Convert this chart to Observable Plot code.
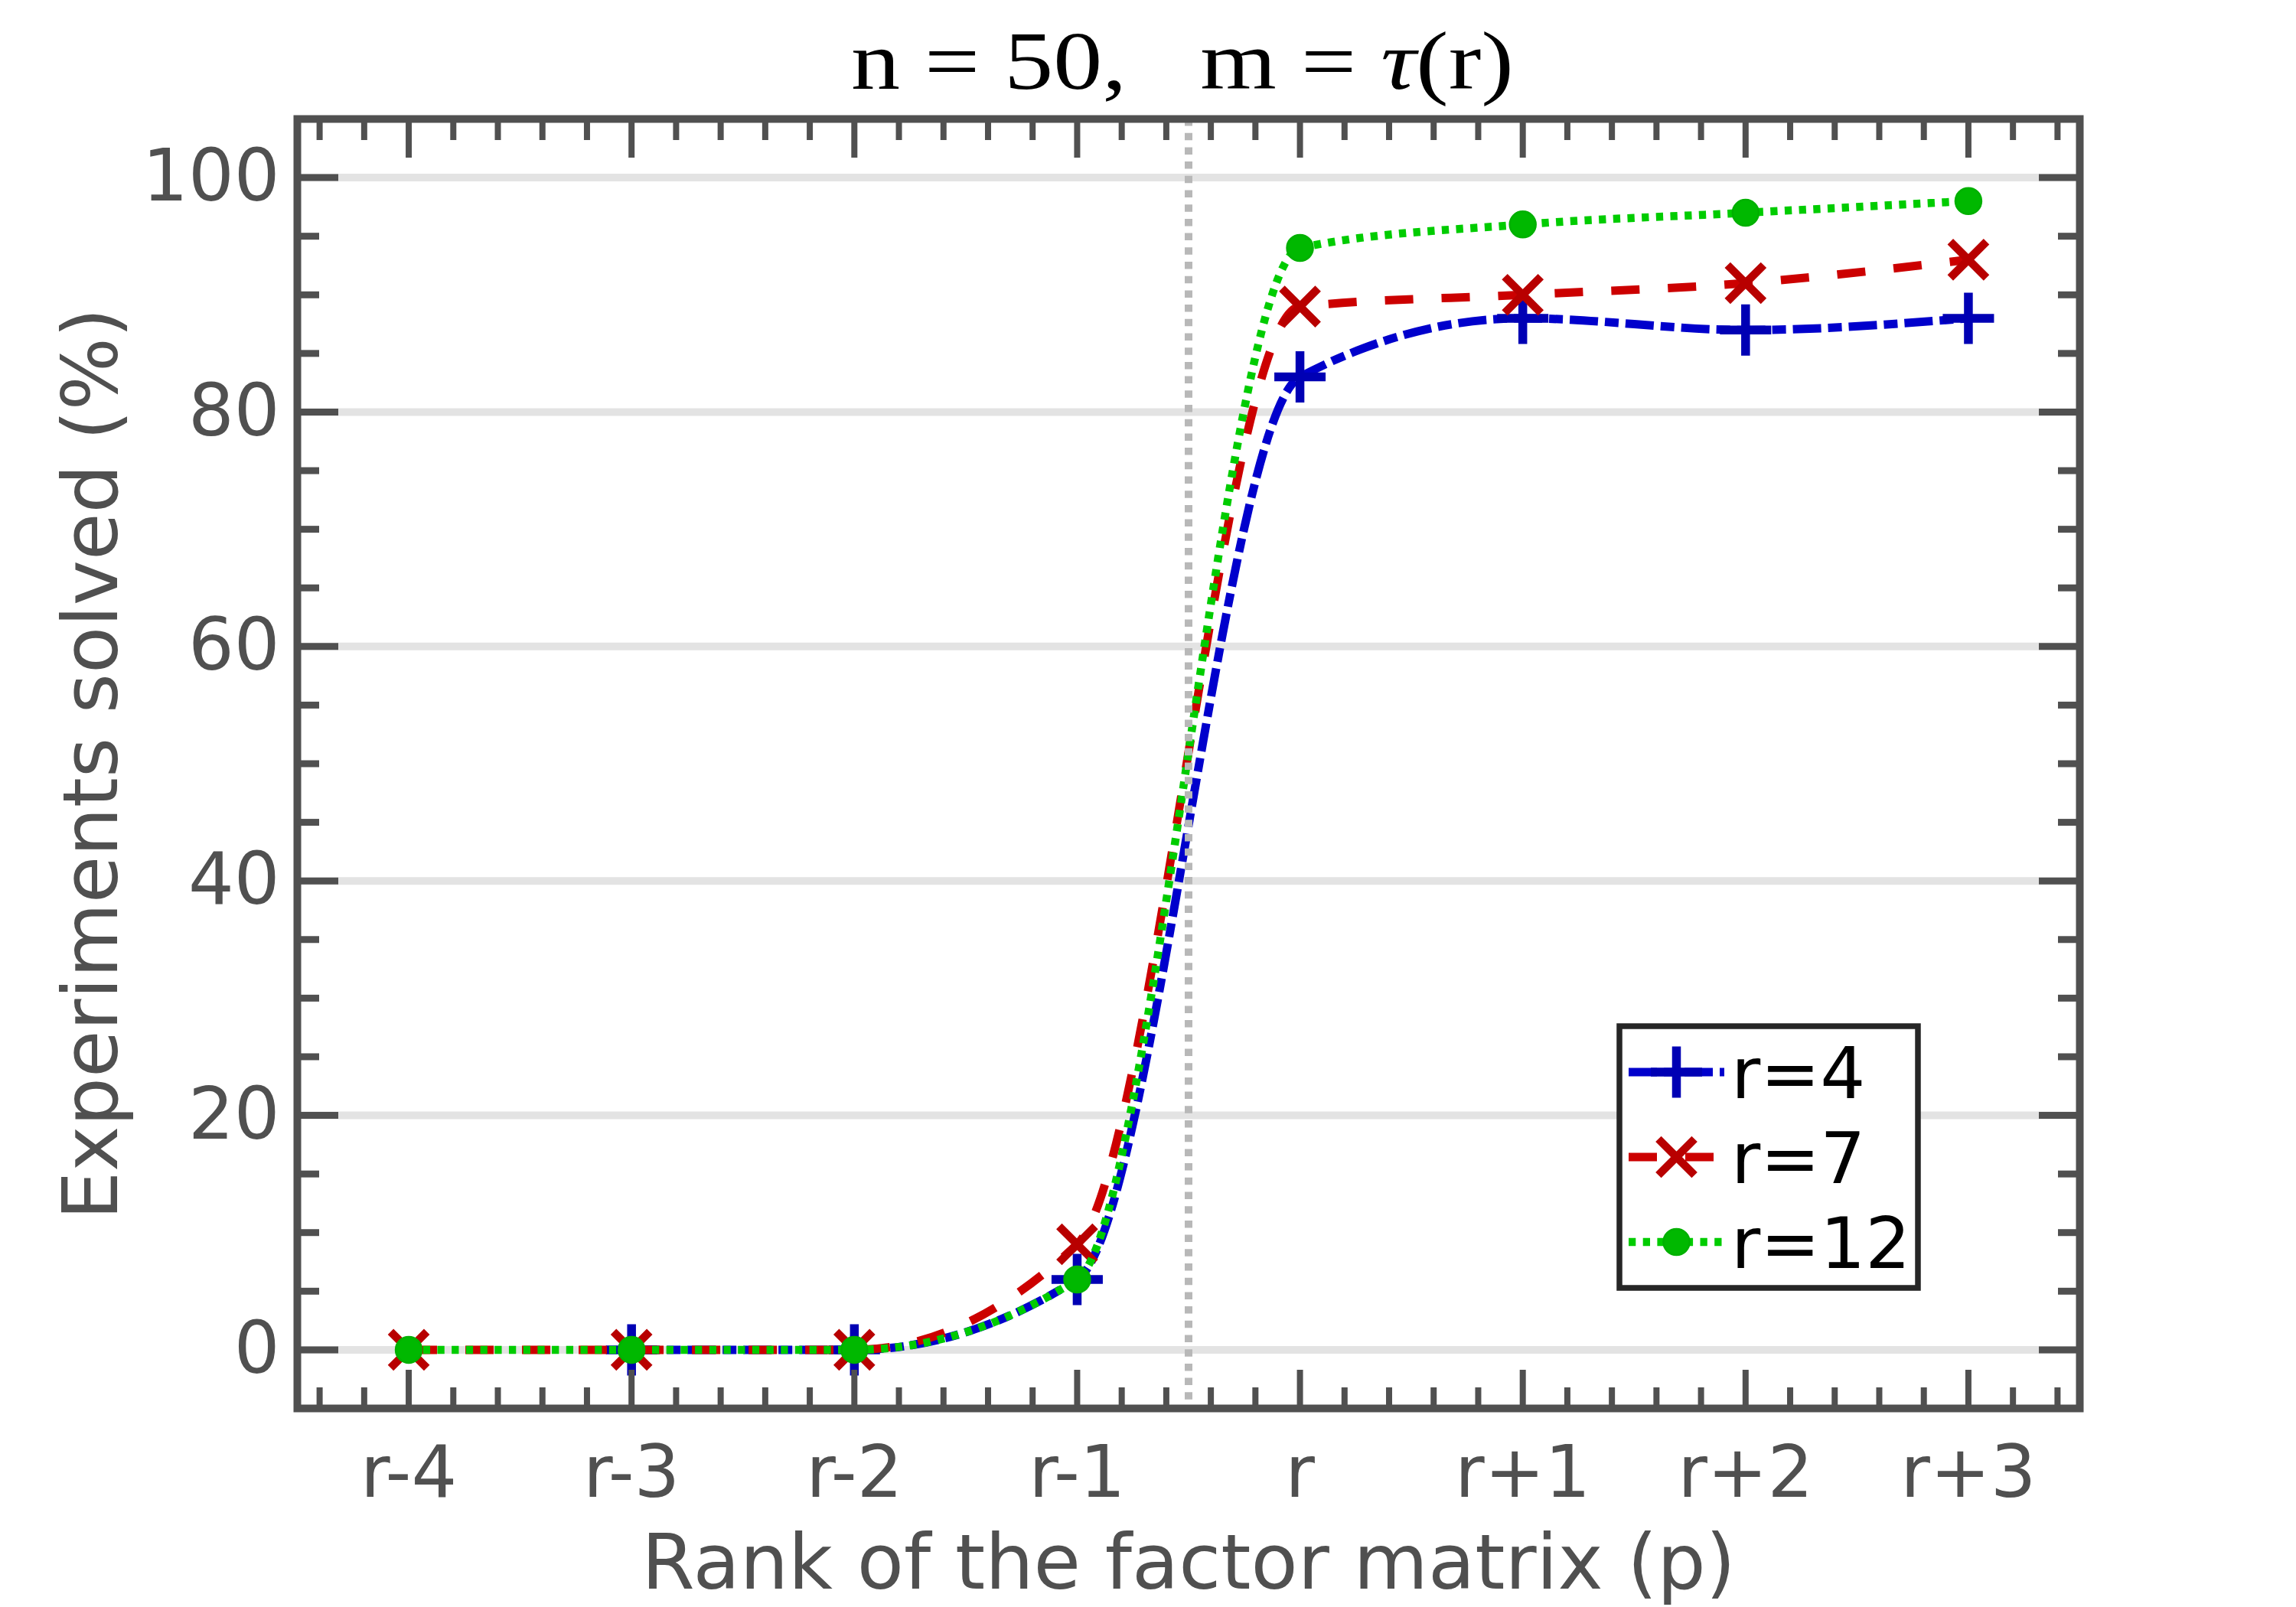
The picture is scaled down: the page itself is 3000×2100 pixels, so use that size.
<!DOCTYPE html>
<html>
<head>
<meta charset="utf-8">
<script src="https://cdn.jsdelivr.net/npm/d3@7"></script>
<script src="https://cdn.jsdelivr.net/npm/@observablehq/plot@0.6"></script>
<style>
  body { margin: 0; background: #ffffff; }
  #chart svg { display: block; }
</style>
</head>
<body>
<div id="chart"></div>
<script>
// ---- data ----
const rankLabels  = ["r-4", "r-3", "r-2", "r-1", "r", "r+1", "r+2", "r+3"];
const rankOffsets = [-4, -3, -2, -1, 0, 1, 2, 3];
const solvedR4  = [null, 0, 0, 6, 83, 88, 87, 88];
const solvedR7  = [0, 0, 0, 9, 89, 90, 91, 93];
const solvedR12 = [0, 0, 0, 6, 94, 96, 97, 98];
const seriesNames = ["r=4", "r=7", "r=12"];
const yMajorTicks = [0, 20, 40, 60, 80, 100];
const yMinorTicks = [5, 10, 15, 25, 30, 35, 45, 50, 55, 65, 70, 75, 85, 90, 95];
const xMinorTicks = [-4.4, -4.2, -3.8, -3.6, -3.4, -3.2, -2.8, -2.6, -2.4, -2.2, -1.8, -1.6, -1.4, -1.2,
                     -0.8, -0.6, -0.4, -0.2, 0.2, 0.4, 0.6, 0.8, 1.2, 1.4, 1.6, 1.8, 2.2, 2.4, 2.6, 2.8, 3.2, 3.4];
const thresholdOffset = [-0.5];
const xAxisLabel = "Rank of the factor matrix (p)";
const yAxisLabel = "Experiments solved (%)";

// ---- symbols ----
const plusSymbol = {draw(ctx, size) { const r = Math.sqrt(size / Math.PI); ctx.moveTo(-r, 0); ctx.lineTo(r, 0); ctx.moveTo(0, -r); ctx.lineTo(0, r); }};
const crossSymbol = {draw(ctx, size) { const r = Math.sqrt(size / Math.PI) * Math.SQRT1_2; ctx.moveTo(-r, -r); ctx.lineTo(r, r); ctx.moveTo(-r, r); ctx.lineTo(r, -r); }};
const circleSymbol = d3.symbolCircle;

const seriesStyles = [
  {name: seriesNames[0], values: solvedR4,  line: "#0000cc", lw: 11,   dash: "37,9,18,9", symbol: plusSymbol,   r: 33.5, mStroke: "#0000b4", mFill: "none",    mWidth: 11.5},
  {name: seriesNames[1], values: solvedR7,  line: "#cc0000", lw: 11,   dash: "37,37",     symbol: crossSymbol,  r: 33.4, mStroke: "#b80000", mFill: "none",    mWidth: 10.5},
  {name: seriesNames[2], values: solvedR12, line: "#00cc00", lw: 10.5, dash: "9.3,9.4",   symbol: circleSymbol, r: 17,   mStroke: "#00b000", mFill: "#00b800", mWidth: 2.5}
];

const seriesMarks = seriesStyles.flatMap(s => {
  const rows = rankOffsets.map((p, i) => ({p, v: s.values[i]})).filter(d => d.v != null);
  return [
    Plot.line(rows, {x: "p", y: "v", stroke: s.line, strokeWidth: s.lw, strokeDasharray: s.dash,
                     strokeLinecap: "butt", strokeLinejoin: "round", curve: "monotone-x"}),
    Plot.dot(rows, {x: "p", y: "v", symbol: s.symbol, r: s.r, stroke: s.mStroke, fill: s.mFill, strokeWidth: s.mWidth})
  ];
});

const tickColor = "#505050";

const svg = Plot.plot({
  width: 3000,
  height: 2100,
  marginLeft: 388,
  marginRight: 283,
  marginTop: 155,
  marginBottom: 260,
  style: {fontFamily: "'DejaVu Sans', sans-serif", background: "white", color: tickColor},
  x: {domain: [-4.5, 3.5], axis: null},
  y: {domain: [-5, 105], axis: null},
  marks: [
    Plot.gridY(yMajorTicks, {stroke: "#e3e3e3", strokeOpacity: 1, strokeWidth: 10}),
    ...seriesMarks,
    Plot.ruleX(thresholdOffset, {stroke: "#b8b8b8", strokeWidth: 10, strokeDasharray: "9.5,9.2"}),
    Plot.frame({stroke: tickColor, strokeWidth: 10}),
    // inward ticks, bottom & top
    Plot.axisX({ticks: rankOffsets, anchor: "bottom", tickSize: 50, dy: -50, fill: "none", label: null, stroke: tickColor, strokeWidth: 8}),
    Plot.axisX({ticks: xMinorTicks, anchor: "bottom", tickSize: 27, dy: -27, fill: "none", label: null, stroke: tickColor, strokeWidth: 8}),
    Plot.axisX({ticks: rankOffsets, anchor: "top", tickSize: 50, dy: 50, fill: "none", label: null, stroke: tickColor, strokeWidth: 8}),
    Plot.axisX({ticks: xMinorTicks, anchor: "top", tickSize: 27, dy: 27, fill: "none", label: null, stroke: tickColor, strokeWidth: 8}),
    // inward ticks, left & right
    Plot.axisY({ticks: yMajorTicks, anchor: "left", tickSize: 54, dx: 54, fill: "none", label: null, stroke: tickColor, strokeWidth: 9}),
    Plot.axisY({ticks: yMinorTicks, anchor: "left", tickSize: 29, dx: 29, fill: "none", label: null, stroke: tickColor, strokeWidth: 9}),
    Plot.axisY({ticks: yMajorTicks, anchor: "right", tickSize: 54, dx: -54, fill: "none", label: null, stroke: tickColor, strokeWidth: 9}),
    Plot.axisY({ticks: yMinorTicks, anchor: "right", tickSize: 29, dx: -29, fill: "none", label: null, stroke: tickColor, strokeWidth: 9}),
    // tick labels
    Plot.axisX({ticks: rankOffsets, anchor: "bottom", tickSize: 0, tickPadding: 49, label: null,
                tickFormat: d => rankLabels[rankOffsets.indexOf(d)], fontSize: 94, fill: tickColor}),
    Plot.axisY({ticks: yMajorTicks, anchor: "left", tickSize: 0, tickPadding: 23, label: null, fontSize: 94, fill: tickColor}),
    // axis titles
    Plot.text([xAxisLabel], {text: d => d, frameAnchor: "bottom", lineAnchor: "bottom", dy: 235, fontSize: 100, fill: tickColor}),
    Plot.text([yAxisLabel], {text: d => d, frameAnchor: "left", rotate: -90, lineAnchor: "bottom", textAnchor: "middle", dx: -236, fontSize: 100, fill: tickColor})
  ]
});

// ---- title (serif, with italic tau) ----
const root = d3.select(svg);
const title = root.append("text")
  .attr("x", 1545).attr("y", 116)
  .attr("text-anchor", "middle")
  .attr("font-family", "'Liberation Serif', serif")
  .attr("font-size", 108)
  .attr("fill", "#000")
  .attr("textLength", 866)
  .attr("lengthAdjust", "spacingAndGlyphs")
  .style("white-space", "pre");
title.append("tspan").text("n = 50,   m = ");
title.append("tspan").attr("font-style", "italic").text("\u03C4");
title.append("tspan").text("(r)");

// ---- legend ----
const lg = root.append("g");
lg.append("rect").attr("x", 2116).attr("y", 1341).attr("width", 390).attr("height", 342)
  .attr("fill", "white").attr("stroke", "#262626").attr("stroke-width", 7.5);
seriesStyles.forEach((s, i) => {
  const cy = 1401 + i * 111;
  lg.append("line").attr("x1", 2128).attr("x2", 2253).attr("y1", cy).attr("y2", cy)
    .attr("stroke", s.line).attr("stroke-width", s.lw).attr("stroke-dasharray", s.dash);
  lg.append("path").attr("transform", `translate(2190.5,${cy})`)
    .attr("d", d3.symbol(s.symbol, s.r * s.r * Math.PI)())
    .attr("fill", s.mFill).attr("stroke", s.mStroke).attr("stroke-width", s.mWidth);
  lg.append("text").attr("x", 2262).attr("y", cy + 34)
    .attr("text-anchor", "start")
    .attr("font-family", "'DejaVu Sans', sans-serif").attr("font-size", 93).attr("fill", "#000")
    .text(s.name);
});

document.getElementById("chart").appendChild(svg);
</script>
</body>
</html>
